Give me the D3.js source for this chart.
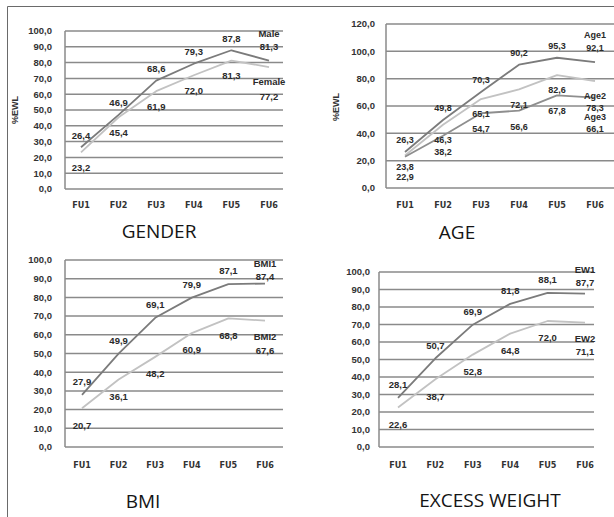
<!DOCTYPE html>
<html><head><meta charset="utf-8">
<script src="https://cdn.jsdelivr.net/npm/d3@7"></script>
<style>
html,body{margin:0;padding:0;background:#fff;}
svg{display:block;}
</style></head>
<body>
<svg id="c" width="614" height="517"></svg>
<script>
// ---- data ----
const categories = ["FU1","FU2","FU3","FU4","FU5","FU6"];
const genderMale   = [26.4, 46.9, 68.6, 79.3, 87.8, 81.3];
const genderFemale = [23.2, 45.4, 61.9, 72.0, 81.3, 77.2];
const ageAge1 = [26.3, 49.8, 70.3, 90.2, 95.3, 92.1];
const ageAge2 = [23.8, 46.3, 65.1, 72.1, 82.6, 78.3];
const ageAge3 = [22.9, 38.2, 54.7, 56.6, 67.8, 66.1];
const bmiBMI1 = [27.9, 49.9, 69.1, 79.9, 87.1, 87.4];
const bmiBMI2 = [20.7, 36.1, 48.2, 60.9, 68.8, 67.6];
const ewEW1 = [28.1, 50.7, 69.9, 81.8, 88.1, 87.7];
const ewEW2 = [22.6, 38.7, 52.8, 64.8, 72.0, 71.1];
const ticks100 = [0,10,20,30,40,50,60,70,80,90,100];
const ticks120 = [0,20,40,60,80,100,120];
const panelTitles = ["GENDER","AGE","BMI","EXCESS WEIGHT"];
const yAxisTitle = "%EWL";

// ---- styling / layout ----
const DARK = "#7b7b7b", LIGHT = "#c2c2c2", MID = "#8e8e8e";
const fmt = d3.formatLocale({decimal:",",thousands:".",grouping:[3],currency:["",""]}).format(".1f");

const panels = [
  {title:panelTitles[0], left:65, right:283, top:31, bottom:189, yMax:100, ticks:ticks100,
   x0:81, x1:269, tickRight:52, xLabelY:205, titleX:159, titleY:238, yTitle:{x:15,y:110}, fs:9.5,
   series:[
     {name:"Male", values:genderMale, color:DARK, dy:-12, nameDy:-27, endDy:-14},
     {name:"Female", values:genderFemale, color:LIGHT, dy:15, nameDy:15, endDy:30}
   ]},
  {title:panelTitles[1], left:386, right:614, top:24, bottom:188, yMax:120, ticks:ticks120,
   x0:405, x1:595, tickRight:375, xLabelY:205, titleX:457, titleY:239, yTitle:{x:336,y:107}, fs:9,
   series:[
     {name:"Age1", values:ageAge1, color:DARK, dy:-12, nameDy:-27, endDy:-14},
     {name:"Age2", values:ageAge2, color:LIGHT, dy:15, nameDy:15, endDy:27},
     {name:"Age3", values:ageAge3, color:MID, dy:16, nameDy:19, endDy:31}
   ]},
  {title:panelTitles[2], left:65, right:283, top:260, bottom:447, yMax:100, ticks:ticks100,
   x0:82, x1:265, tickRight:52, xLabelY:465, titleX:143, titleY:508, yTitle:null, fs:9.5,
   series:[
     {name:"BMI1", values:bmiBMI1, color:DARK, dy:-13, nameDy:-20, endDy:-7},
     {name:"BMI2", values:bmiBMI2, color:LIGHT, dy:17, nameDy:16, endDy:30}
   ]},
  {title:panelTitles[3], left:379, right:594, top:272, bottom:447, yMax:100, ticks:ticks100,
   x0:398, x1:585, tickRight:370, xLabelY:465, titleX:490, titleY:507, yTitle:null, fs:9.5,
   series:[
     {name:"EW1", values:ewEW1, color:DARK, dy:-13, nameDy:-24, endDy:-11},
     {name:"EW2", values:ewEW2, color:LIGHT, dy:17, nameDy:16, endDy:29}
   ]}
];

const svg = d3.select("#c");
svg.append("rect").attr("width",614).attr("height",517).attr("fill","#fff");
// outer frame (top + left visible)
svg.append("path").attr("d","M7.5,517V6.5H614").attr("fill","none").attr("stroke","#6a6a6a").attr("stroke-width",1);

const smallFont = "'Liberation Sans', Arial, sans-serif";

panels.forEach(p => {
  const g = svg.append("g");
  const y = d3.scaleLinear().domain([0,p.yMax]).range([p.bottom,p.top]);
  const x = d3.scalePoint().domain(categories).range([p.x0,p.x1]);

  // gridlines
  g.selectAll("line.grid").data(p.ticks).join("line")
    .attr("x1",p.left).attr("x2",p.right)
    .attr("y1",d=>y(d)).attr("y2",d=>y(d))
    .attr("stroke","#8a8a8a").attr("stroke-width",1.5);
  // left axis line
  g.append("line").attr("x1",p.left).attr("x2",p.left).attr("y1",p.top).attr("y2",p.bottom)
    .attr("stroke","#8a8a8a").attr("stroke-width",1.5);

  // y tick labels
  g.selectAll("text.yt").data(p.ticks).join("text")
    .attr("x",p.tickRight).attr("y",d=>y(d)).attr("dy","0.35em")
    .attr("text-anchor","end").attr("font-family",smallFont).attr("font-weight","bold")
    .attr("font-size",9.5).attr("fill","#333").text(d=>fmt(d));

  // x labels
  g.selectAll("text.xt").data(categories).join("text")
    .attr("x",d=>x(d)).attr("y",p.xLabelY).attr("dy","0.35em")
    .attr("text-anchor","middle").attr("font-family","'Liberation Sans Narrow','DejaVu Sans Condensed',sans-serif")
    .attr("font-weight","bold").attr("font-size",9).attr("fill","#333").text(d=>d);

  // y title
  if (p.yTitle) {
    g.append("text").attr("transform",`translate(${p.yTitle.x},${p.yTitle.y}) rotate(-90)`)
      .attr("text-anchor","middle").attr("dy","0.35em").attr("font-family",smallFont)
      .attr("font-weight","bold").attr("font-size",9).attr("fill","#333").text(yAxisTitle);
  }

  // lines
  const line = d3.line().x((d,i)=>x(categories[i])).y(d=>y(d));
  p.series.forEach(s => {
    g.append("path").datum(s.values).attr("d",line).attr("fill","none")
      .attr("stroke",s.color).attr("stroke-width",1.8).attr("stroke-linejoin","round");
  });

  // data labels: compute positions, then nudge same-category collisions apart
  const labels = [];
  p.series.forEach(s => {
    const last = s.values.length - 1;
    s.values.forEach((v,i) => {
      const dy = i === last ? s.endDy : s.dy;
      labels.push({i, x:x(categories[i]), y:y(v)+dy, text:fmt(v)});
    });
    labels.push({i:-1, x:x(categories[last]), y:y(s.values[last])+s.nameDy, text:s.name});
  });
  const minGap = 10;
  for (let a = 0; a < labels.length; a++) {
    for (let b = a+1; b < labels.length; b++) {
      const A = labels[a], B = labels[b];
      if (A.i >= 0 && A.i === B.i && Math.abs(A.y - B.y) < 4) {
        const mid = (A.y + B.y) / 2;
        const up = A.y <= B.y ? A : B, dn = up === A ? B : A;
        up.y = mid - minGap/2; dn.y = mid + minGap/2;
      }
    }
  }
  g.selectAll("text.dl").data(labels).join("text")
    .attr("x",d=>d.x).attr("y",d=>d.y).attr("dy","0.35em")
    .attr("text-anchor","middle").attr("font-family",smallFont).attr("font-weight","bold")
    .attr("font-size",p.fs).attr("fill","#2a2a2a").text(d=>d.text);

  // panel title
  g.append("text").attr("x",p.titleX).attr("y",p.titleY).attr("text-anchor","middle")
    .attr("font-family","'Open Sans', sans-serif").attr("font-size",19).attr("fill","#141414")
    .text(p.title);
});
</script>
</body></html>
